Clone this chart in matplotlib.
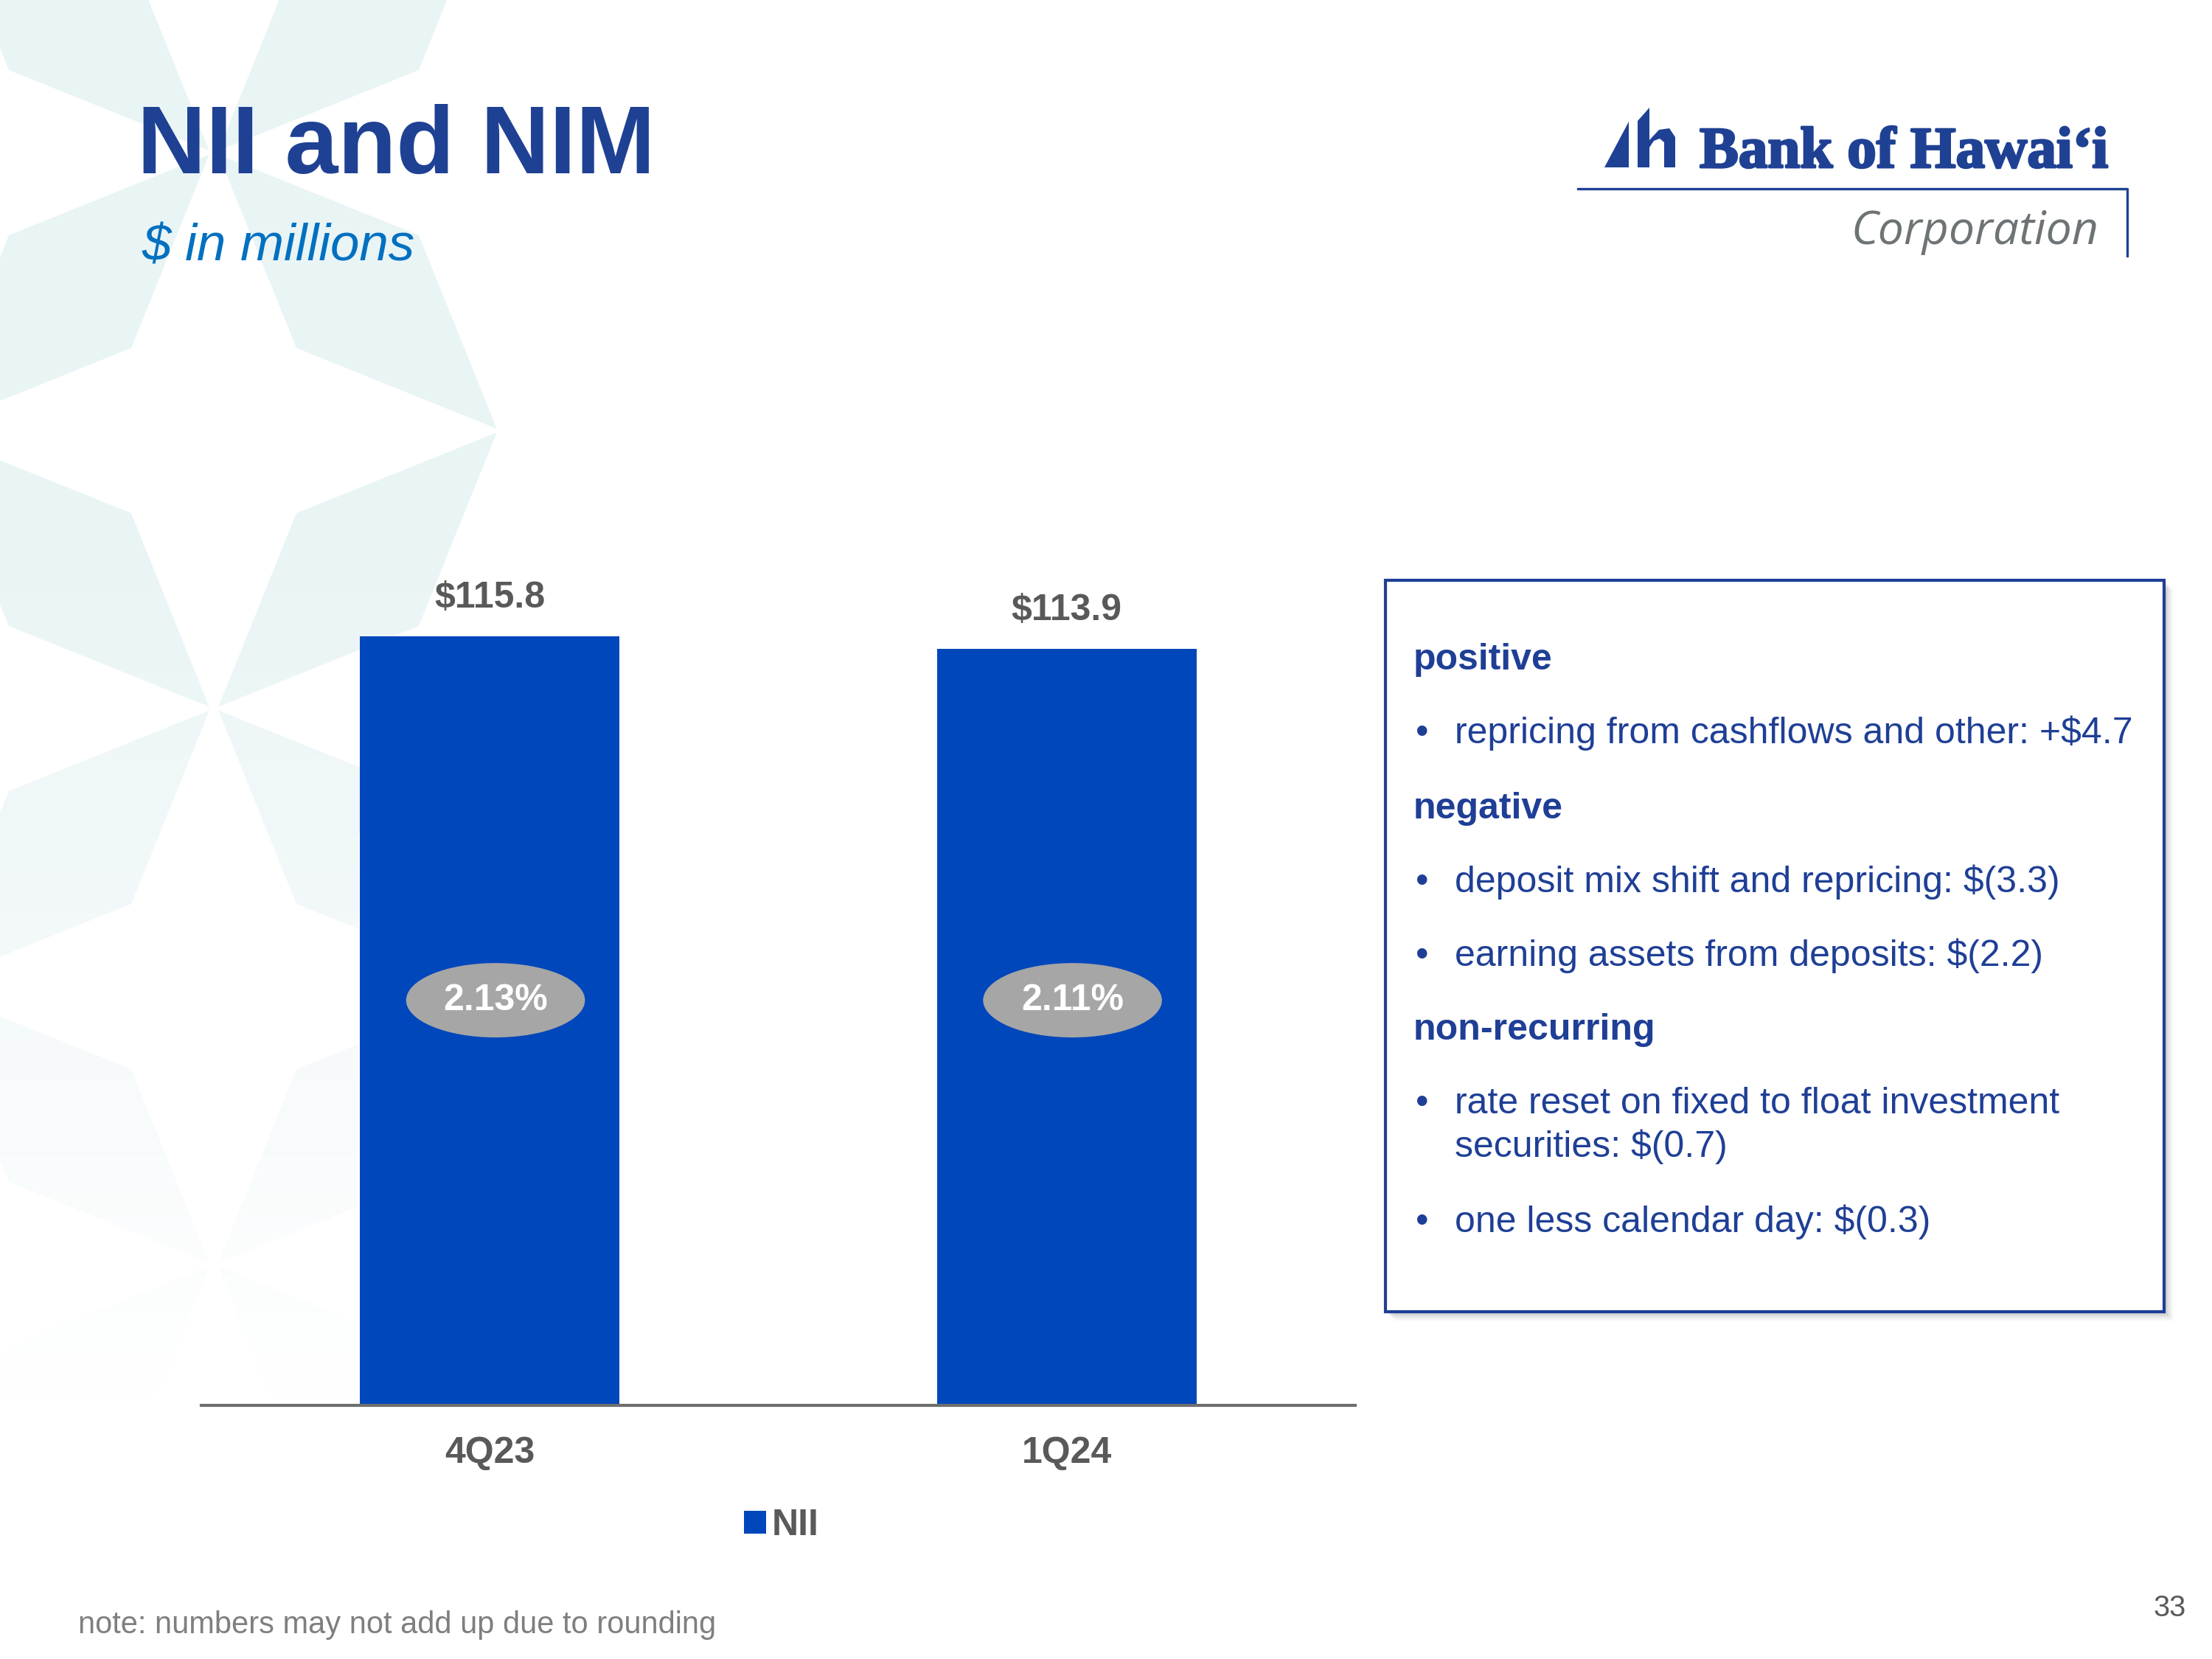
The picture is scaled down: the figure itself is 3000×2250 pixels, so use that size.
import matplotlib.pyplot as plt
import matplotlib.patheffects as pe
import numpy as np
from matplotlib.patches import Polygon, Rectangle, Ellipse

plt.rcParams['font.family'] = ['Liberation Sans', 'DejaVu Sans']

# ==== data ====
quarters = ['4Q23', '1Q24']
nii = [115.8, 113.9]          # $ millions
nim = [2.13, 2.11]            # %
series_name = 'NII'

box_kinds = ['head', 'bullet', 'head', 'bullet', 'bullet', 'head', 'bullet', 'cont', 'bullet']
box_texts = ['positive',
             'repricing from cashflows and other: +$4.7',
             'negative',
             'deposit mix shift and repricing: $(3.3)',
             'earning assets from deposits: $(2.2)',
             'non-recurring',
             'rate reset on fixed to float investment',
             'securities: $(0.7)',
             'one less calendar day: $(0.3)']

# ==== colours ====
BAR_BLUE = '#0047BB'
TITLE_BLUE = '#1F4194'
SUB_BLUE = '#0070C0'
GREY_TXT = '#595959'
PALE = np.array([0.914, 0.957, 0.961])

W, H = 3000, 2250
fig = plt.figure(figsize=(10, 7.5), dpi=300)

# background / decoration layer in pixel coords (y down)
bg = fig.add_axes([0, 0, 1, 1], zorder=0)
bg.set_xlim(0, W)
bg.set_ylim(H, 0)
bg.axis('off')

# pale star pattern, fading downwards
env = Polygon([(0, 0), (620, 0), (680, 584), (487, 1130), (487, 1950), (0, 1950)],
              closed=True, facecolor='none', edgecolor='none', transform=bg.transData)
bg.add_patch(env)
ny = 200
yy = np.linspace(0, 1950, ny)
alpha = np.clip(1 - (yy - 700) / 1200, 0, 1)
grad = np.ones((ny, 1, 4))
grad[:, 0, :3] = PALE
grad[:, 0, 3] = alpha
im = bg.imshow(grad, extent=(0, 700, 1950, 0), aspect='auto', interpolation='bilinear', zorder=0)
im.set_clip_path(env)


def star(cx, cy, h=112, L=390):
    return [(cx, cy - L), (cx + h, cy - h), (cx + L, cy), (cx + h, cy + h),
            (cx, cy + L), (cx - h, cy + h), (cx - L, cy), (cx - h, cy - h)]


for i in range(-1, 3):
    for j in range(-2, 5):
        if (i + j) % 2 == 0:
            bg.add_patch(Polygon(star(290 + 390 * i, 584 + 377 * j), closed=True,
                                 facecolor='white', edgecolor='none', zorder=1))

# title block
bg.text(186, 235, 'NII and NIM', fontsize=31, fontweight='bold', color=TITLE_BLUE,
        ha='left', va='baseline', zorder=5)
bg.text(192, 354, '$ in millions', fontsize=17, style='italic', color=SUB_BLUE,
        ha='left', va='baseline', zorder=5)

# logo
bg.add_patch(Polygon([(2176, 227), (2209, 227), (2209, 165)], closed=True,
                     facecolor=TITLE_BLUE, edgecolor='none', zorder=5))
bg.add_patch(Polygon([(2221, 227), (2221, 164), (2237, 146), (2237, 190), (2250, 176),
                      (2264, 174), (2272, 186), (2272, 227), (2257, 227), (2257, 193),
                      (2251, 188), (2243, 191), (2237, 200), (2237, 227)],
                     closed=True, facecolor=TITLE_BLUE, edgecolor='none', zorder=5))
bg.text(2305, 227, 'Bank of Hawai\u2018i', family=['Liberation Serif', 'DejaVu Serif'],
        fontsize=19, fontweight='bold', color=TITLE_BLUE, ha='left', va='baseline', zorder=5,
        path_effects=[pe.withStroke(linewidth=0.7, foreground=TITLE_BLUE)])
bg.plot([2140, 2885, 2885], [256, 256, 347], color=TITLE_BLUE, lw=0.8, zorder=5)
bg.text(2846, 331, 'Corporation', family=['Open Sans', 'DejaVu Sans'], style='italic',
        fontsize=15, color='#6E7376', ha='right', va='baseline', zorder=5)

# commentary box with soft shadow
bx, by, bw, bh = 1879, 787, 1056, 992
for k, a in zip([12, 9, 6, 3], [0.05, 0.08, 0.12, 0.18]):
    bg.add_patch(Rectangle((bx + k, by + k), bw, bh, facecolor='#606060', alpha=a,
                           edgecolor='none', zorder=2))
bg.add_patch(Rectangle((bx, by), bw, bh, facecolor='white', edgecolor='#1F3F96',
                       lw=1.0, zorder=3))
box_y = [908, 1008, 1110, 1210, 1310, 1410, 1510, 1569, 1671]
for kind, txt, y in zip(box_kinds, box_texts, box_y):
    if kind == 'head':
        bg.text(1917, y, txt, fontsize=12, fontweight='bold', color='#1F3F96',
                ha='left', va='baseline', zorder=4)
    else:
        if kind == 'bullet':
            bg.text(1920, y, '\u2022', fontsize=12, color='#1F3F96',
                    ha='left', va='baseline', zorder=4)
        bg.text(1973, y, txt, fontsize=12, color='#1F3F96',
                ha='left', va='baseline', zorder=4)

# footer
bg.text(106, 2215, 'note: numbers may not add up due to rounding', fontsize=10,
        color='#7F7F7F', ha='left', va='baseline', zorder=5)
bg.text(2965, 2192, '33', fontsize=9.5, color=GREY_TXT, ha='right', va='baseline', zorder=5)

# ==== bar chart ====
ax = fig.add_axes([273 / W, (H - 1906) / H, (1838 - 273) / W, 1261 / H], zorder=2)
ax.patch.set_alpha(0)
x = np.arange(len(quarters))
bars = ax.bar(x, nii, width=0.45, color=BAR_BLUE, label=series_name, zorder=2)
ax.set_xlim(-0.5, 1.5)
ax.set_ylim(0, 140)

for b, v in zip(bars, nii):
    ax.annotate(f'${v:.1f}', (b.get_x() + b.get_width() / 2, v), xytext=(0, 7),
                textcoords='offset points', ha='center', va='bottom',
                fontsize=12, fontweight='bold', color=GREY_TXT)

NIM_Y = 61  # vertical placement of the NIM bubbles (data units)
for xi, m in zip(x, nim):
    ax.add_patch(Ellipse((xi + 0.01, NIM_Y), 0.31, 11.2, facecolor='#A6A6A6',
                         edgecolor='none', zorder=3))
    ax.text(xi + 0.01, NIM_Y, f'{m:.2f}%', ha='center', va='center', fontsize=12,
            fontweight='bold', color='white', zorder=4)

for s in ['top', 'right', 'left']:
    ax.spines[s].set_visible(False)
ax.spines['bottom'].set_color('#6E6E6E')
ax.spines['bottom'].set_linewidth(1.0)
ax.set_yticks([])
ax.set_xticks(x)
ax.set_xticklabels(quarters, fontsize=12, fontweight='bold', color=GREY_TXT)
ax.tick_params(axis='x', length=0, pad=10)

ax.legend(loc='center', bbox_to_anchor=(1060 / W, 1 - 2069 / H), bbox_transform=fig.transFigure,
          frameon=False, handlelength=0.6, handleheight=0.6, handletextpad=0.15,
          prop={'size': 12, 'weight': 'bold'}, labelcolor=GREY_TXT)

fig.savefig('out.png', dpi=300)
